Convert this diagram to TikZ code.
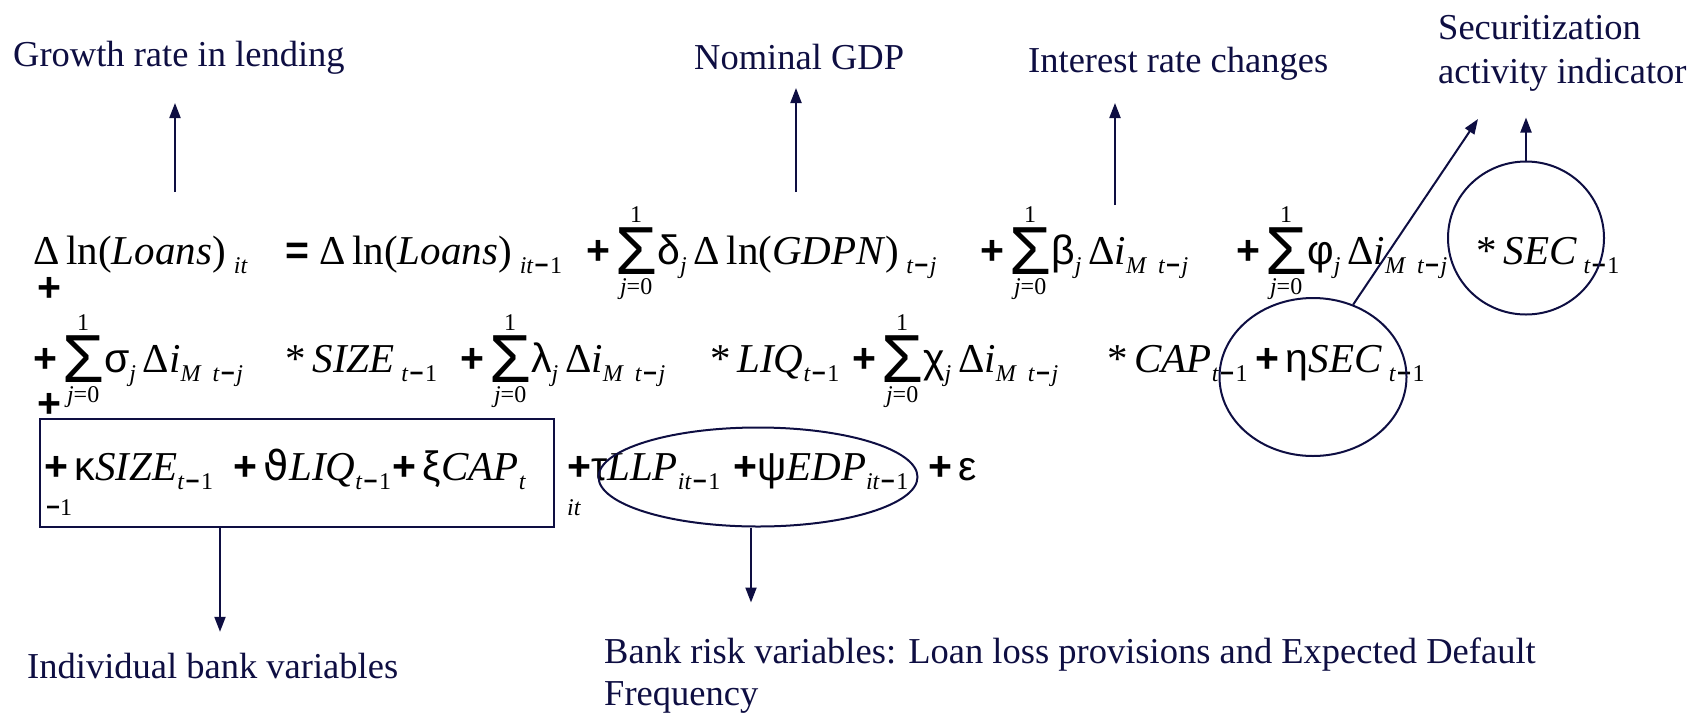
\documentclass[tikz,border=0pt]{standalone}
\usepackage{fix-cm}
\usepackage{amsmath}
\usepackage{fontspec}
\setmainfont{Liberation Serif}
\setsansfont{Liberation Sans}
\newfontfamily\thetafont{DejaVu Sans}
\usetikzlibrary{arrows.meta,shapes.geometric}
\definecolor{navy}{RGB}{14,14,66}

\newcommand{\lo}[1]{\raisebox{-9pt}{\fontsize{24}{24}\selectfont\itshape #1}}
\newcommand{\mi}{\hspace{1.5pt}{\upshape\sffamily\bfseries −}\hspace{1.5pt}}
\newcommand{\pl}{{\sffamily\bfseries +}}
\newcommand{\gk}[1]{{\sffamily #1}}
\newcommand{\sumj}{\hspace{5pt}$\mathop{\hbox{\raisebox{-10pt}{\fontsize{68}{68}\selectfont\sffamily Σ}}}\limits^{\hbox{\fontsize{24}{24}\selectfont 1}}_{\hbox{\fontsize{24}{24}\selectfont\itshape j\upshape =0}}$}

\tikzset{
  lbl/.style={anchor=base west, inner sep=0pt, text=navy, font=\fontsize{36.5}{44}\selectfont},
  eqn/.style={anchor=base west, inner sep=0pt, font=\fontsize{41}{50}\selectfont},
  ring/.style={draw=navy, line width=2pt, ellipse, inner sep=0pt},
  varbox/.style={draw=navy, line width=1.6pt, rectangle, inner sep=0pt},
  arr/.style={draw=navy, line width=2pt, -{Triangle[width=11pt,length=15pt]}},
}

\begin{document}
\begin{tikzpicture}[x=1pt,y=-1pt]
  \useasboundingbox (0,0) rectangle (1692,713);
  % labels
  \node[lbl] (lGrowth) at (13,66) {Growth rate in lending};
  \node[lbl] (lGDP) at (694,69) {Nominal GDP};
  \node[lbl] (lRate) at (1028,72) {Interest rate changes};
  \node[lbl, align=left] (lSec) at (1438,83) {Securitization\\activity indicator};
  \node[lbl] (lBank) at (27,678) {Individual bank variables};
  \node[lbl, align=left, font=\fontsize{36.5}{42}\selectfont] (lRisk) at (604,705) {Bank risk variables: Loan loss provisions and Expected Default\\Frequency};
  % equation, line 1
  \node[eqn] (t1a) at (33,264) {Δ\,ln(\textit{Loans})\hspace{8pt}\lo{it}};
  \node[eqn] (t1b) at (285,264) {{\sffamily\bfseries =}\hspace{10pt}Δ\,ln(\textit{Loans})\hspace{8pt}\lo{it\mi\textup{1}}};
  \node[eqn] (t1c) at (586,264) {\pl\sumj\gk{δ}\lo{j}\,Δ\,ln(\textit{GDPN})\,\lo{t\mi j}};
  \node[eqn] (t1d) at (980,264) {\pl\sumj\gk{β}\lo{j}\,Δ\textit{i}\lo{M\ \ t\mi j}};
  \node[eqn] (t1e) at (1236,264) {\pl\sumj\gk{φ}\lo{j}\,Δ\textit{i}\lo{M\ \ t\mi j}};
  \node[eqn] (t1f) at (1476,264) {*\,\textit{SEC}\,\lo{t\mi\textup{1}}};
  \node[eqn, anchor=center] (plA) at (49,289) {\pl};
  % line 2
  \node[eqn] (t2a) at (33,372) {\pl\sumj\gk{σ}\lo{j}\,Δ\textit{i}\lo{M\ \ t\mi j}};
  \node[eqn] (t2b) at (285,372) {*\,\textit{SIZE}\,\lo{t\mi\textup{1}}};
  \node[eqn] (t2c) at (460,372) {\pl\sumj\gk{λ}\lo{j}\,Δ\textit{i}\lo{M\ \ t\mi j}};
  \node[eqn] (t2d) at (710,372) {*\,\textit{LIQ}\lo{t\mi\textup{1}}};
  \node[eqn] (t2e) at (852,372) {\pl\sumj\gk{χ}\lo{j}\,Δ\textit{i}\lo{M\ \ t\mi j}};
  \node[eqn] (t2f) at (1107,372) {*\,\textit{CAP}\lo{t\mi\textup{1}}};
  \node[eqn] (t2g) at (1255,372) {\pl\,\gk{η}\textit{SEC}\,\lo{t\mi\textup{1}}};
  \node[eqn, anchor=center] (plB) at (49,405) {\pl};
  % line 3
  \node[eqn] (t3a) at (44,480) {\pl\,\gk{κ}\textit{SIZE}\lo{t\mi\textup{1}}};
  \node[eqn] (t3b) at (233,480) {\pl\,{\thetafont ϑ}\textit{LIQ}\lo{t\mi\textup{1}}};
  \node[eqn] (t3c) at (392,480) {\pl\,\gk{ξ}\textit{CAP}\lo{t}};
  \node[eqn] (t3d) at (567,480) {\pl\gk{τ}\textit{LLP}\lo{it\mi\textup{1}}};
  \node[eqn] (t3e) at (733,480) {\pl\gk{ψ}\textit{EDP}\lo{it\mi\textup{1}}};
  \node[eqn] (t3f) at (928,480) {\pl\,\gk{ε}};
  \node[eqn, font=\fontsize{24}{24}\selectfont] (wrapA) at (46,515) {{\sffamily\bfseries −}1};
  \node[eqn, font=\fontsize{24}{24}\selectfont\itshape] (wrapB) at (567,515) {it};
  % box and ellipses
  \node[varbox, minimum width=514pt, minimum height=108pt] (box) at (297,473) {};
  \node[ring, minimum width=319pt, minimum height=99pt] (eRisk) at (758,477) {};
  \node[ring, minimum width=156pt, minimum height=153pt] (eSecA) at (1526,238) {};
  \node[ring, minimum width=187pt, minimum height=158pt] (eSecB) at (1313,377) {};
  % arrows
  \coordinate (sGrowth) at (175,192);
  \coordinate (sGDP) at (796,192);
  \coordinate (sRate) at (1115,205);
  \coordinate (tSecB) at (1478,119);
  \draw[arr] (sGrowth) -- (175,103);
  \draw[arr] (sGDP) -- (796,88);
  \draw[arr] (sRate) -- (1115,103);
  \draw[arr] (eSecB.61) -- (tSecB);
  \draw[arr] (eSecA.north) -- ++(0,-43);
  \draw[arr] ([xshift=-77pt]box.south) -- ++(0,104);
  \draw[arr] ([xshift=-7pt]eRisk.south) -- ++(0,75);
\end{tikzpicture}
\end{document}
